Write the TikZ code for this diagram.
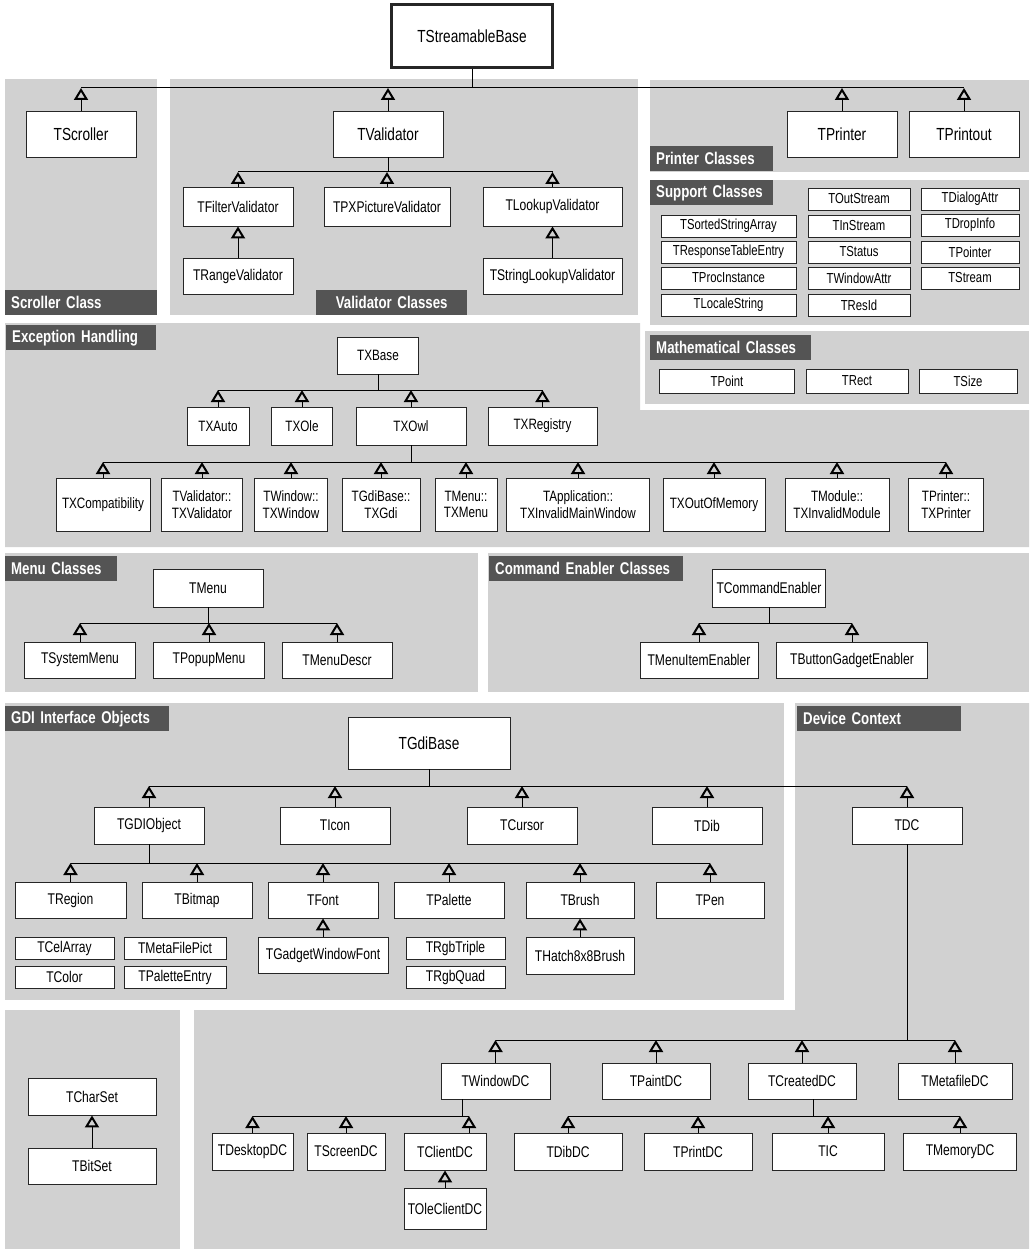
\documentclass[tikz,border=0pt]{standalone}
\usepackage{fontspec}
\setmainfont{Liberation Sans}[FakeStretch=0.78]
\usetikzlibrary{arrows.meta}

\definecolor{panelgray}{gray}{0.82}
\definecolor{bannergray}{gray}{0.33}
\newcommand\clsfont{\fontsize{15.5}{17}\selectfont}
\newcommand\bigclsfont{\fontsize{17.5}{20}\selectfont}
\newcommand\supfont{\fontsize{14.5}{16}\selectfont}
\newcommand\excfont{\fontsize{15}{16.5}\selectfont}
\newcommand\bnrfont{\fontsize{17}{19}\selectfont\bfseries}

\begin{document}
\begin{tikzpicture}[x=1pt, y=-1pt,
  cls/.style={draw=black!85, line width=0.9pt, fill=white, inner sep=1pt, font=\clsfont, align=center},
  big/.style={cls, font=\bigclsfont, minimum width=110, minimum height=46},
  sup/.style={cls, font=\supfont, minimum height=22},
  exc/.style={cls, font=\excfont},
  wd/.style={minimum width=#1},
  ht/.style={minimum height=#1},
  bnr/.style={fill=bannergray, text=white, font=\bnrfont, anchor=north west, inner xsep=6pt, inner ysep=0pt, minimum height=25, align=left},
  inh/.style={line width=0.9pt, -{Triangle[open, length=12pt, width=14pt, line width=2pt]}},
  bus/.style={line width=1pt}]
\useasboundingbox (0,0) rectangle (1029,1249);

% panels
\fill[panelgray] (5,79) rectangle (157,315);
\fill[panelgray] (170,79) rectangle (638,315);
\fill[panelgray] (650,80) rectangle (1029,172);
\fill[panelgray] (650,180) rectangle (1029,325);
\fill[panelgray] (645,331) rectangle (1029,404);
\fill[panelgray] (5,323) -- (640,323) -- (640,410) -- (1029,410) -- (1029,547) -- (5,547) -- cycle;
\fill[panelgray] (5,553) rectangle (478,692);
\fill[panelgray] (488,553) rectangle (1029,692);
\fill[panelgray] (5,703) rectangle (784,1000);
\fill[panelgray] (795,703) -- (1029,703) -- (1029,1249) -- (194,1249) -- (194,1010) -- (795,1010) -- cycle;
\fill[panelgray] (5,1010) rectangle (180,1249);

% banners
\node[bnr, text width=140] (bScroll) at (5,290) {Scroller Class};
\node[bnr, text width=139, align=center] (bValid) at (316,290) {Validator Classes};
\node[bnr, text width=111] (bPrinter) at (650,146) {Printer Classes};
\node[bnr, text width=111] (bSupport) at (650,180) {Support Classes};
\node[bnr, text width=149] (bMath) at (650,335) {Mathematical Classes};
\node[bnr, text width=138] (bExcept) at (6,325) {Exception Handling};
\node[bnr, text width=100] (bMenu) at (5,556) {Menu Classes};
\node[bnr, text width=182] (bCmd) at (489,556) {Command Enabler Classes};
\node[bnr, text width=152] (bGdi) at (5,706) {GDI Interface Objects};
\node[bnr, text width=152] (bDC) at (797,706) {Device Context};

% streamable classes
\node[cls, line width=2.4pt, font=\bigclsfont, wd=161, ht=63] (tStream) at (472,36) {TStreamableBase};
\node[big] (tScroller) at (81,134) {TScroller};
\node[big] (tValid) at (388,134) {TValidator};
\node[big] (tPrinter) at (842,134) {TPrinter};
\node[big] (tPrintout) at (964,134) {TPrintout};
\node[cls, wd=110, ht=39] (tFilter) at (238,206.5) {TFilterValidator};
\node[cls, wd=126, ht=39] (tPXPic) at (387,206.5) {TPXPictureValidator};
\node[cls, wd=139, ht=39] (tLookup) at (552.5,206.5) {TLookupValidator};
\node[cls, wd=110, ht=36] (tRange) at (238,276) {TRangeValidator};
\node[cls, wd=139, ht=36] (tStrLook) at (552.5,276) {TStringLookupValidator};

% support classes
\node[sup, wd=102] (sOut) at (859,199) {TOutStream};
\node[sup, wd=98] (sDlg) at (970,199) {TDialogAttr};
\node[sup, wd=135] (sSorted) at (728.5,226) {TSortedStringArray};
\node[sup, wd=102] (sIn) at (859,226) {TInStream};
\node[sup, wd=98] (sDrop) at (970,225) {TDropInfo};
\node[sup, wd=135] (sResp) at (728.5,252) {TResponseTableEntry};
\node[sup, wd=102] (sStatus) at (859,252) {TStatus};
\node[sup, wd=98] (sPtr) at (970,252) {TPointer};
\node[sup, wd=135] (sProc) at (728.5,278) {TProcInstance};
\node[sup, wd=102] (sWinAttr) at (859,278) {TWindowAttr};
\node[sup, wd=98] (sStream) at (970,278) {TStream};
\node[sup, wd=135] (sLocale) at (728.5,305) {TLocaleString};
\node[sup, wd=102] (sResId) at (859,305) {TResId};

% mathematical classes
\node[sup, wd=135, ht=24] (mPoint) at (727,381) {TPoint};
\node[sup, wd=102, ht=24] (mRect) at (857,381) {TRect};
\node[sup, wd=98, ht=24] (mSize) at (968,381) {TSize};

% exceptions
\node[exc, wd=81, ht=37] (xBase) at (378,355.5) {TXBase};
\node[exc, wd=62, ht=38] (xAuto) at (218,426) {TXAuto};
\node[exc, wd=61, ht=38] (xOle) at (302,426) {TXOle};
\node[exc, wd=110, ht=38] (xOwl) at (411,426) {TXOwl};
\node[exc, wd=109, ht=38] (xReg) at (542.5,426) {TXRegistry};
\node[exc, wd=94, ht=53] (xCompat) at (103,504.5) {TXCompatibility};
\node[exc, wd=81, ht=53] (xValid) at (202,504.5) {TValidator::\\TXValidator};
\node[exc, wd=73, ht=53] (xWin) at (291,504.5) {TWindow::\\TXWindow};
\node[exc, wd=78, ht=53] (xGdi) at (381,504.5) {TGdiBase::\\TXGdi};
\node[exc, wd=62, ht=53] (xMenu) at (466,504.5) {TMenu::\\TXMenu};
\node[exc, wd=143, ht=53] (xApp) at (578,504.5) {TApplication::\\TXInvalidMainWindow};
\node[exc, wd=102, ht=53] (xMem) at (714,504.5) {TXOutOfMemory};
\node[exc, wd=104, ht=53] (xMod) at (837,504.5) {TModule::\\TXInvalidModule};
\node[exc, wd=75, ht=53] (xPrn) at (946,504.5) {TPrinter::\\TXPrinter};

% menus and command enablers
\node[cls, wd=110, ht=38] (nMenu) at (208,588) {TMenu};
\node[cls, wd=111, ht=36] (nSys) at (80,660) {TSystemMenu};
\node[cls, wd=111, ht=36] (nPopup) at (209,660) {TPopupMenu};
\node[cls, wd=110, ht=36] (nDescr) at (337,660) {TMenuDescr};
\node[cls, wd=113, ht=38] (cEnab) at (769,588) {TCommandEnabler};
\node[cls, wd=118, ht=36] (cItem) at (699,660) {TMenuItemEnabler};
\node[cls, wd=151, ht=36] (cButton) at (852,660) {TButtonGadgetEnabler};

% gdi objects
\node[cls, font=\bigclsfont, wd=162, ht=52] (gBase) at (429,743) {TGdiBase};
\node[cls, wd=110, ht=37] (gObj) at (149,825.5) {TGDIObject};
\node[cls, wd=110, ht=37] (gIcon) at (335,825.5) {TIcon};
\node[cls, wd=110, ht=37] (gCursor) at (522,825.5) {TCursor};
\node[cls, wd=110, ht=37] (gDib) at (707,825.5) {TDib};
\node[cls, wd=110, ht=37] (dDC) at (907,825.5) {TDC};
\node[cls, wd=111, ht=36] (gRegion) at (70.5,900) {TRegion};
\node[cls, wd=110, ht=36] (gBitmap) at (197,900) {TBitmap};
\node[cls, wd=110, ht=36] (gFont) at (323,900) {TFont};
\node[cls, wd=110, ht=36] (gPalette) at (449,900) {TPalette};
\node[cls, wd=108, ht=36] (gBrush) at (580,900) {TBrush};
\node[cls, wd=108, ht=36] (gPen) at (710,900) {TPen};
\node[cls, wd=99, ht=22] (gCel) at (64.5,948) {TCelArray};
\node[cls, wd=99, ht=22] (gColor) at (64.5,977) {TColor};
\node[cls, wd=102, ht=22] (gMeta) at (175,948) {TMetaFilePict};
\node[cls, wd=102, ht=22] (gPalEnt) at (175,977) {TPaletteEntry};
\node[cls, wd=130, ht=36] (gGadget) at (323,955) {TGadgetWindowFont};
\node[cls, wd=99, ht=22] (gRgbT) at (455.5,948) {TRgbTriple};
\node[cls, wd=99, ht=22] (gRgbQ) at (455.5,977) {TRgbQuad};
\node[cls, wd=108, ht=37] (gHatch) at (580,955.5) {THatch8x8Brush};

% device contexts
\node[cls, wd=109, ht=36] (dWin) at (495.5,1081) {TWindowDC};
\node[cls, wd=108, ht=36] (dPaint) at (656,1081) {TPaintDC};
\node[cls, wd=108, ht=36] (dCreated) at (802,1081) {TCreatedDC};
\node[cls, wd=114, ht=36] (dMeta) at (955,1081) {TMetafileDC};
\node[cls, wd=81, ht=37] (dDesk) at (252.5,1151.5) {TDesktopDC};
\node[cls, wd=78, ht=37] (dScreen) at (346,1151.5) {TScreenDC};
\node[cls, wd=82, ht=37] (dClient) at (445,1151.5) {TClientDC};
\node[cls, wd=108, ht=37] (dDib) at (568,1151.5) {TDibDC};
\node[cls, wd=108, ht=37] (dPrint) at (698,1151.5) {TPrintDC};
\node[cls, wd=112, ht=37] (dIC) at (828,1151.5) {TIC};
\node[cls, wd=113, ht=37] (dMem) at (960,1151.5) {TMemoryDC};
\node[cls, wd=82, ht=41] (dOle) at (445,1208.5) {TOleClientDC};

% char sets
\node[cls, wd=128, ht=37] (kChar) at (92,1096.5) {TCharSet};
\node[cls, wd=128, ht=36] (kBit) at (92,1166) {TBitSet};

% bus lines
\coordinate (busTop) at (0,88);
\coordinate (busVal) at (0,172);
\coordinate (busX1) at (0,390);
\coordinate (busX2) at (0,462);
\coordinate (busM) at (0,623);
\coordinate (busG1) at (0,786);
\coordinate (busG2) at (0,863);
\coordinate (busD1) at (0,1040);
\coordinate (jWin) at (462,1116);
\coordinate (jClient) at (469,1116);
\coordinate (jCreated) at (813,1116);

% inheritance
\foreach \c in {tScroller,tValid,tPrinter,tPrintout}
  \draw[inh] (\c.north) -- (\c.north |- busTop);
\draw[bus] (tScroller.north |- busTop) -- (tPrintout.north |- busTop);
\draw[bus] (tStream.south) -- (tStream.south |- busTop);

\foreach \c in {tFilter,tPXPic,tLookup}
  \draw[inh] (\c.north) -- (\c.north |- busVal);
\draw[bus] (tFilter.north |- busVal) -- (tLookup.north |- busVal);
\draw[bus] (tValid.south) -- (tValid.south |- busVal);
\draw[inh] (tRange.north) -- (tFilter.south);
\draw[inh] (tStrLook.north) -- (tLookup.south);

\foreach \c in {xAuto,xOle,xOwl,xReg}
  \draw[inh] (\c.north) -- (\c.north |- busX1);
\draw[bus] (xAuto.north |- busX1) -- (xReg.north |- busX1);
\draw[bus] (xBase.south) -- (xBase.south |- busX1);
\foreach \c in {xCompat,xValid,xWin,xGdi,xMenu,xApp,xMem,xMod,xPrn}
  \draw[inh] (\c.north) -- (\c.north |- busX2);
\draw[bus] (xCompat.north |- busX2) -- (xPrn.north |- busX2);
\draw[bus] (xOwl.south) -- (xOwl.south |- busX2);

\foreach \c in {nSys,nPopup,nDescr}
  \draw[inh] (\c.north) -- (\c.north |- busM);
\draw[bus] (nSys.north |- busM) -- (nDescr.north |- busM);
\draw[bus] (nMenu.south) -- (nMenu.south |- busM);
\foreach \c in {cItem,cButton}
  \draw[inh] (\c.north) -- (\c.north |- busM);
\draw[bus] (cItem.north |- busM) -- (cButton.north |- busM);
\draw[bus] (cEnab.south) -- (cEnab.south |- busM);

\foreach \c in {gObj,gIcon,gCursor,gDib,dDC}
  \draw[inh] (\c.north) -- (\c.north |- busG1);
\draw[bus] (gObj.north |- busG1) -- (dDC.north |- busG1);
\draw[bus] (gBase.south) -- (gBase.south |- busG1);
\foreach \c in {gRegion,gBitmap,gFont,gPalette,gBrush,gPen}
  \draw[inh] (\c.north) -- (\c.north |- busG2);
\draw[bus] (gRegion.north |- busG2) -- (gPen.north |- busG2);
\draw[bus] (gObj.south) -- (gObj.south |- busG2);
\draw[inh] (gGadget.north) -- (gFont.south);
\draw[inh] (gHatch.north) -- (gBrush.south);

\foreach \c in {dWin,dPaint,dCreated,dMeta}
  \draw[inh] (\c.north) -- (\c.north |- busD1);
\draw[bus] (dWin.north |- busD1) -- (dMeta.north |- busD1);
\draw[bus] (dDC.south) -- (dDC.south |- busD1);
\foreach \c in {dDesk,dScreen}
  \draw[inh] (\c.north) -- (\c.north |- jWin);
\draw[inh] (dClient.north -| jClient) -- (jClient);
\draw[bus] (dDesk.north |- jWin) -- (jClient);
\draw[bus] (dWin.south -| jWin) -- (jWin);
\foreach \c in {dDib,dPrint,dIC,dMem}
  \draw[inh] (\c.north) -- (\c.north |- jCreated);
\draw[bus] (dDib.north |- jCreated) -- (dMem.north |- jCreated);
\draw[bus] (dCreated.south -| jCreated) -- (jCreated);
\draw[inh] (dOle.north) -- (dClient.south);

\draw[inh] (kBit.north) -- (kChar.south);
\end{tikzpicture}
\end{document}
